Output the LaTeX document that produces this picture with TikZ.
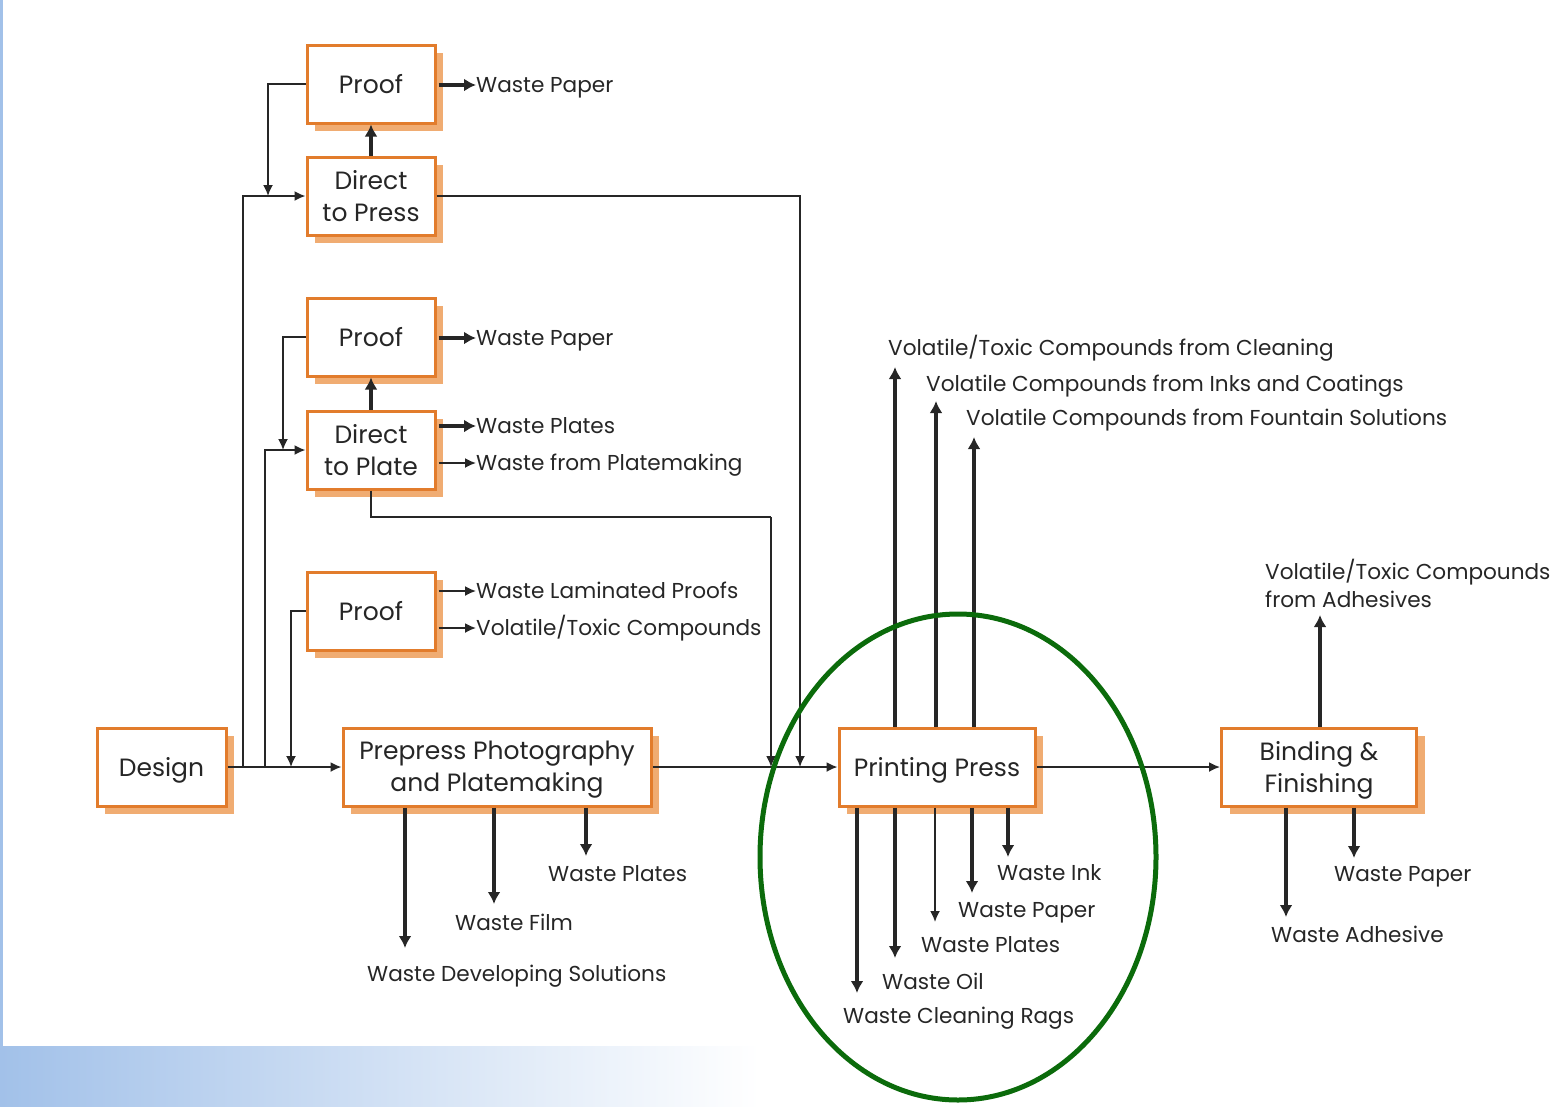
\documentclass[tikz,border=0pt]{standalone}
\usepackage{fontspec}
\setmainfont{Poppins}
\usetikzlibrary{arrows.meta,shadows}
\definecolor{borange}{HTML}{E27C2C}
\definecolor{shorange}{HTML}{F0AC72}
\definecolor{ink}{HTML}{262626}
\definecolor{ringgreen}{HTML}{0B6B0B}
\definecolor{sideblue}{HTML}{A2C1E9}
\begin{document}
\begin{tikzpicture}[x=1pt,y=-1pt,
  box/.style={draw=borange,line width=3pt,fill=white,inner sep=0pt,
    minimum height=78pt,
    drop shadow={shadow xshift=8pt,shadow yshift=-8pt,fill=shorange,opacity=1}},
  boxtext/.style={inner sep=0pt,align=center,text=ink,
    font=\fontsize{25}{32}\selectfont},
  lowtext/.style={boxtext,yshift=-3pt},
  lbl/.style={anchor=west,inner sep=0pt,text=ink,text height=14.6pt,text depth=0pt,
    font=\fontsize{21.6}{28}\selectfont},
  thin/.style={draw=ink,line width=1.7pt,-{Latex[length=11pt,width=10pt]}},
  plain/.style={draw=ink,line width=1.7pt},
  thick/.style={draw=ink,line width=3.2pt,-{Latex[length=12pt,width=13pt]}}]
\useasboundingbox (0,0) rectangle (1555,1106);
% background decorations
\fill[sideblue] (0,0) rectangle (3,1046);
\shade[left color=sideblue,right color=white] (0,1046) rectangle (760,1106);
% boxes
\node[box,minimum width=128pt,label={[boxtext]center:Proof}] (proofA) at (371,84) {};
\node[box,minimum width=128pt,label={[boxtext]center:{Direct\\to Press}}] (dtpress) at (371,196) {};
\node[box,minimum width=128pt,label={[boxtext]center:Proof}] (proofB) at (371,337) {};
\node[box,minimum width=128pt,label={[boxtext]center:{Direct\\to Plate}}] (dtplate) at (371,450) {};
\node[box,minimum width=128pt,label={[boxtext]center:Proof}] (proofC) at (371,611) {};
\node[box,minimum width=129pt,label={[lowtext]center:Design}] (design) at (161.5,767) {};
\node[box,minimum width=308pt,label={[lowtext]center:{Prepress Photography\\and Platemaking}}] (prepress) at (497,767) {};
\node[box,minimum width=196pt,label={[lowtext]center:Printing Press}] (press) at (937,767) {};
\node[box,minimum width=195pt,label={[lowtext]center:{Binding \&\\Finishing}}] (binding) at (1319,767) {};
% side labels
\node[lbl] (wpA) at (476,85) {Waste Paper};
\node[lbl] (wpB) at (476,338) {Waste Paper};
\node[lbl] (wplB) at (476,426) {Waste Plates};
\node[lbl] (wfp) at (476,463) {Waste from Platemaking};
\node[lbl] (wlp) at (476,591) {Waste Laminated Proofs};
\node[lbl] (vtcC) at (476,628) {Volatile/Toxic Compounds};
\node[lbl] (ppPl) at (548,874) {Waste Plates};
\node[lbl] (ppFi) at (455,923) {Waste Film};
\node[lbl] (ppDe) at (367,974) {Waste Developing Solutions};
\node[lbl] (upA) at (888,348) {Volatile/Toxic Compounds from Cleaning};
\node[lbl] (upB) at (926,384) {Volatile Compounds from Inks and Coatings};
\node[lbl] (upC) at (966,418) {Volatile Compounds from Fountain Solutions};
\node[lbl] (dnInk) at (997,873) {Waste Ink};
\node[lbl] (dnPa) at (958,910) {Waste Paper};
\node[lbl] (dnPl) at (921,945) {Waste Plates};
\node[lbl] (dnOi) at (882,982) {Waste Oil};
\node[lbl] (dnRa) at (843,1016) {Waste Cleaning Rags};
\node[anchor=west,inner sep=0pt,text=ink,align=left,font=\fontsize{21.6}{28}\selectfont] (bdUp) at (1265,583) {Volatile/Toxic Compounds\\from Adhesives};
\node[lbl] (bdPa) at (1334,874) {Waste Paper};
\node[lbl] (bdAd) at (1271,935) {Waste Adhesive};
% coordinates
\coordinate (jA) at (243,767);
\coordinate (jB) at (265,767);
\coordinate (mA) at (268,196);
\coordinate (mB) at (283,450);
\coordinate (mC) at (291,767);
\coordinate (mD) at (800,767);
\coordinate (cE) at (771,517);
\coordinate (mE) at (771,767);
\coordinate (tDe) at (405,948);
\coordinate (tFi) at (494,904);
\coordinate (tPl) at (586,856);
\coordinate (uA) at (895,367);
\coordinate (uB) at (936,401);
\coordinate (uC) at (974,437);
\coordinate (dRa) at (857,993);
\coordinate (dOi) at (895,958);
\coordinate (dPl) at (935,922);
\coordinate (dPa) at (972,893);
\coordinate (dIn) at (1008,857);
\coordinate (bU) at (1320,615);
\coordinate (bAd) at (1286,917);
\coordinate (bPa) at (1354,858);
% main flow
\draw[thin] (design.east) -- (prepress.west);
\draw[thin] (prepress.east) -- (press.west);
\draw[thin] (press.east) -- (binding.west);
% left feeders
\draw[thin] (jA) |- (dtpress.west);
\draw[thin] (jB) |- (dtplate.west);
\draw[thin] (proofA.west) -| (mA);
\draw[thin] (proofB.west) -| (mB);
\draw[thin] (proofC.west) -| (mC);
\draw[thin] (dtpress.east) -| (mD);
\draw[plain] (dtplate.south) |- (cE);
\draw[thin] (cE) -- (mE);
% proof loops
\draw[thick] (dtpress.north) -- (proofA.south);
\draw[thick] (dtplate.north) -- (proofB.south);
% side wastes
\draw[thick,shorten <=2pt] (proofA.east |- wpA.west) -- (wpA.west);
\draw[thick,shorten <=2pt] (proofB.east |- wpB.west) -- (wpB.west);
\draw[thick,shorten <=2pt] (dtplate.east |- wplB.west) -- (wplB.west);
\draw[thin,shorten <=2pt] (dtplate.east |- wfp.west) -- (wfp.west);
\draw[thin,shorten <=2pt] (proofC.east |- wlp.west) -- (wlp.west);
\draw[thin,shorten <=2pt] (proofC.east |- vtcC.west) -- (vtcC.west);
% prepress wastes
\draw[thick] (prepress.south -| tDe) -- (tDe);
\draw[thick] (prepress.south -| tFi) -- (tFi);
\draw[thick] (prepress.south -| tPl) -- (tPl);
% press emissions
\draw[thick] (press.north -| uA) -- (uA);
\draw[thick] (press.north -| uB) -- (uB);
\draw[thick] (press.north -| uC) -- (uC);
\draw[thick] (press.south -| dRa) -- (dRa);
\draw[thick] (press.south -| dOi) -- (dOi);
\draw[thin] (press.south -| dPl) -- (dPl);
\draw[thick] (press.south -| dPa) -- (dPa);
\draw[thick] (press.south -| dIn) -- (dIn);
% binding wastes
\draw[thick] (binding.north -| bU) -- (bU);
\draw[thick] (binding.south -| bAd) -- (bAd);
\draw[thick] (binding.south -| bPa) -- (bPa);
% highlight ring
\draw[ringgreen,line width=5pt] (958,857) ellipse [x radius=198pt,y radius=243pt];
\end{tikzpicture}
\end{document}
